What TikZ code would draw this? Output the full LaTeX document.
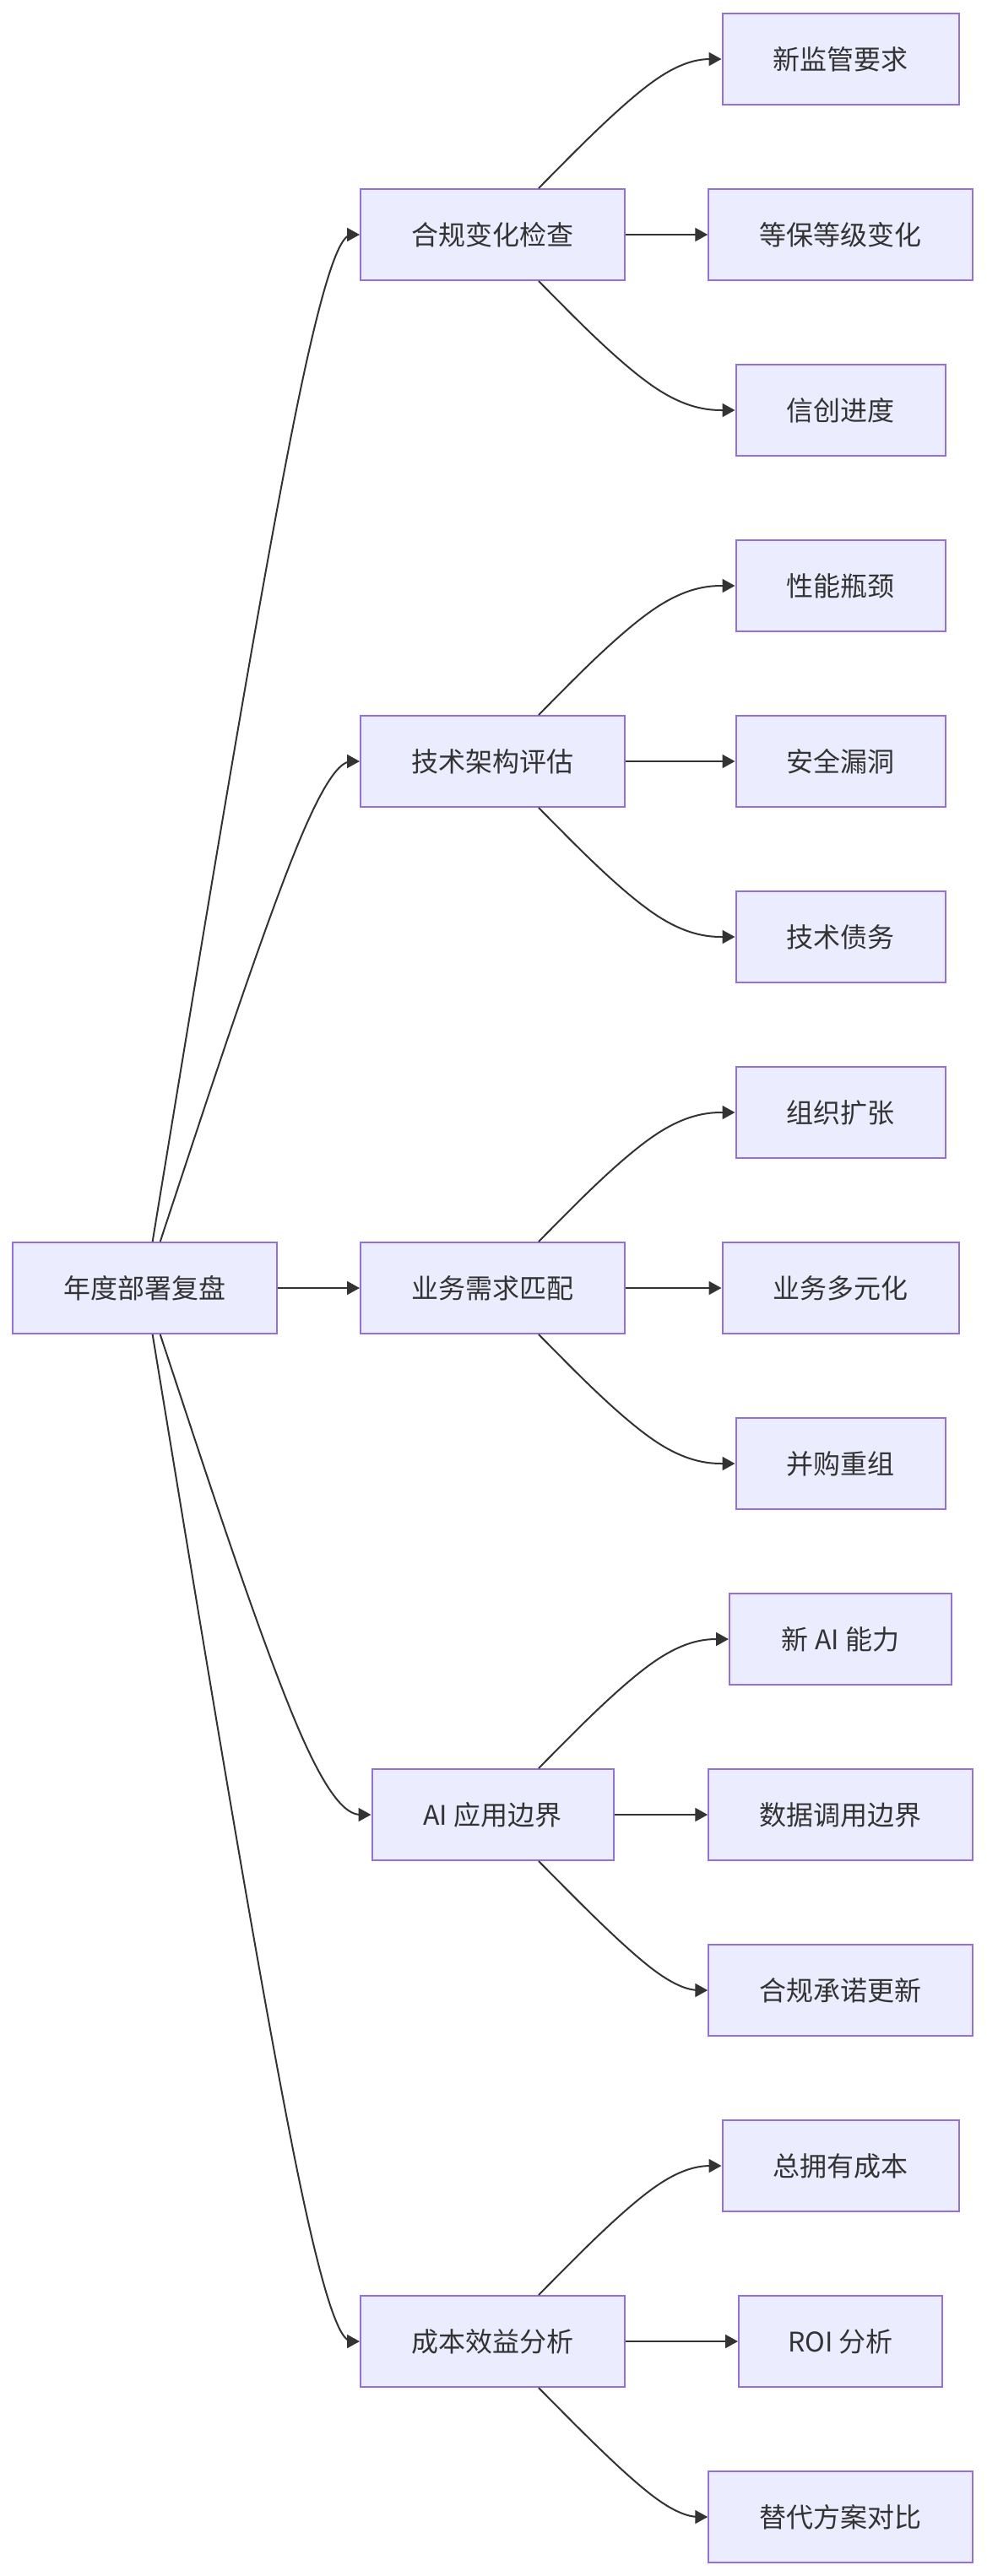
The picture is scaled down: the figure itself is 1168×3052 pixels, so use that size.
\documentclass[tikz,border=0pt]{standalone}
\usepackage{fontspec}
\newfontfamily\cjkfont{Noto Sans CJK SC}
\usetikzlibrary{arrows.meta,calc}
\definecolor{nodefill}{HTML}{ECECFF}
\definecolor{nodeborder}{HTML}{9370DB}
\definecolor{ink}{HTML}{333333}
% basis-spline connector: #1 source node, #2 target node, #3 column coordinate of the bend
\newcommand\bedge[3]{%
  \coordinate (eB) at (#3 |- #2.west);
  \coordinate (eC) at (#2.west);
  \path (#1) -- coordinate[pos=0] (eA) (eB);
  \draw[edge] (#1) -- ($(eA)!1/6!(eB)$)
    .. controls ($(eA)!1/3!(eB)$) and ($(eA)!2/3!(eB)$)
    .. ($0.166667*(eA)+0.666667*(eB)+0.166667*(eC)$)
    .. controls ($(eB)!1/3!(eC)$) and ($(eB)!2/3!(eC)$)
    .. ($(eB)!5/6!(eC)$) -- (#2.west);
}
\begin{document}
\begin{tikzpicture}[x=1pt,y=-1pt,
  box/.style={draw=nodeborder, fill=nodefill, line width=2pt, minimum height=108pt,
    inner sep=0pt, text=ink, font=\cjkfont\fontsize{32}{38}\selectfont},
  edge/.style={draw=ink, line width=2pt, -{Triangle[length=15pt,width=16pt]}},
]
\useasboundingbox (0,0) rectangle (1168,3052);
\fill[white] (0,0) rectangle (1168,3052);

\coordinate (colA) at (377.5,0);
\coordinate (colB) at (789.5,0);

% root
\node[box, minimum width=313pt] (root) at (171.6,1526) {年度部署复盘};
% level 2
\node[box, minimum width=313pt] (c1) at (583.5,278)  {合规变化检查};
\node[box, minimum width=313pt] (c2) at (583.5,902)  {技术架构评估};
\node[box, minimum width=313pt] (c3) at (583.5,1526) {业务需求匹配};
\node[box, minimum width=286pt] (c4) at (583.5,2150) {AI 应用边界};
\node[box, minimum width=313pt] (c5) at (583.5,2774) {成本效益分析};
% leaves
\node[box, minimum width=280pt]   (l1)  at (995.5,70)   {新监管要求};
\node[box, minimum width=312.5pt] (l2)  at (995.5,278)  {等保等级变化};
\node[box, minimum width=248pt]   (l3)  at (995.5,486)  {信创进度};
\node[box, minimum width=248pt]   (l4)  at (995.5,694)  {性能瓶颈};
\node[box, minimum width=248pt]   (l5)  at (995.5,902)  {安全漏洞};
\node[box, minimum width=248pt]   (l6)  at (995.5,1110) {技术债务};
\node[box, minimum width=248pt]   (l7)  at (995.5,1318) {组织扩张};
\node[box, minimum width=280pt]   (l8)  at (995.5,1526) {业务多元化};
\node[box, minimum width=248pt]   (l9)  at (995.5,1734) {并购重组};
\node[box, minimum width=263pt]   (l10) at (995.5,1942) {新 AI 能力};
\node[box, minimum width=312.5pt] (l11) at (995.5,2150) {数据调用边界};
\node[box, minimum width=312.5pt] (l12) at (995.5,2358) {合规承诺更新};
\node[box, minimum width=280pt]   (l13) at (995.5,2566) {总拥有成本};
\node[box, minimum width=241pt]   (l14) at (995.5,2774) {ROI 分析};
\node[box, minimum width=312.5pt] (l15) at (995.5,2982) {替代方案对比};

% root edges
\bedge{root}{c1}{colA}
\bedge{root}{c2}{colA}
\draw[edge] (root) -- (c3);
\bedge{root}{c4}{colA}
\bedge{root}{c5}{colA}

% level-2 edges
\bedge{c1}{l1}{colB}  \draw[edge] (c1) -- (l2);  \bedge{c1}{l3}{colB}
\bedge{c2}{l4}{colB}  \draw[edge] (c2) -- (l5);  \bedge{c2}{l6}{colB}
\bedge{c3}{l7}{colB}  \draw[edge] (c3) -- (l8);  \bedge{c3}{l9}{colB}
\bedge{c4}{l10}{colB} \draw[edge] (c4) -- (l11); \bedge{c4}{l12}{colB}
\bedge{c5}{l13}{colB} \draw[edge] (c5) -- (l14); \bedge{c5}{l15}{colB}
\end{tikzpicture}
\end{document}
